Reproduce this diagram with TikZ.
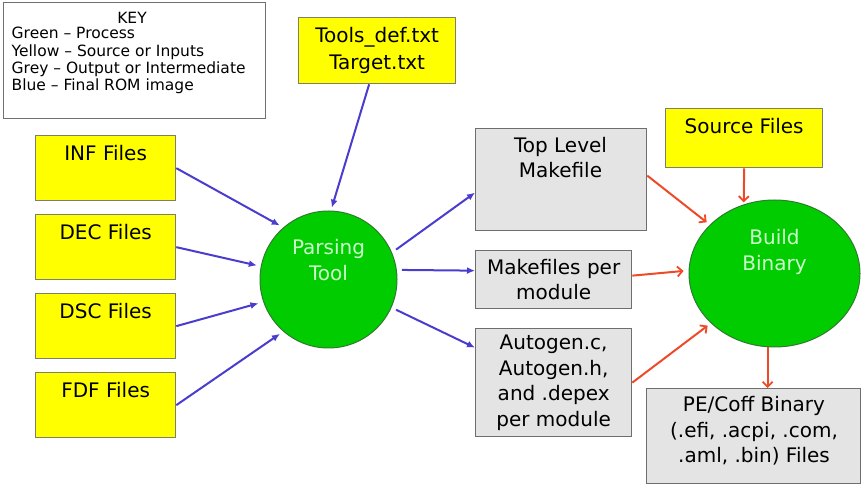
\documentclass[tikz,border=0pt]{standalone}
\usepackage{fontspec}
\setmainfont{DejaVu Sans}
\usetikzlibrary{arrows.meta,shapes.geometric}
\definecolor{ylw}{HTML}{FFFF00}
\definecolor{ybord}{HTML}{7F7F66}
\definecolor{gfill}{HTML}{E4E4E4}
\definecolor{gbord}{HTML}{6E6E6E}
\definecolor{grn}{HTML}{00CC00}
\definecolor{grnb}{HTML}{2E7D2E}
\definecolor{gtext}{HTML}{CCFFCC}
\definecolor{barr}{HTML}{4A3CCF}
\definecolor{rarr}{HTML}{EE4A28}
\definecolor{keyb}{HTML}{707070}
\begin{document}
\begin{tikzpicture}[x=1pt,y=-1pt,
  big/.style={font=\fontsize{20}{25.5}\selectfont},
  small/.style={font=\fontsize{15.5}{17.3}\selectfont},
  ybox/.style={draw=ybord, line width=1.3pt, fill=ylw, big, inner sep=0pt, anchor=north west},
  gbox/.style={draw=gbord, line width=1.3pt, fill=gfill, big, inner sep=0pt, anchor=north west, align=center},
  proc/.style={draw=grnb, line width=1pt, fill=grn, inner sep=0pt},
  ptext/.style={big, text=gtext, align=center, inner sep=0pt},
  btext/.style={big, align=center, inner sep=0pt},
  topfile/.style={text height=25pt, text depth=40pt},
  barrow/.style={draw=barr, line width=2pt, -{Latex[length=8pt,width=7pt]}},
  rarrow/.style={draw=rarr, line width=2pt, -{Straight Barb[length=5pt,width=10pt,line width=1.8pt]}},
]
\useasboundingbox (0,0) rectangle (868,486);
\fill[white] (0,0) rectangle (868,486);

% key
\node[draw=keyb, line width=1.2pt, minimum width=262pt, minimum height=116pt, anchor=north west, inner sep=0pt] (key) at (3,2) {};
\node[small, inner sep=0pt] (keytitle) at (132,17.5) {KEY};
\node[small, align=left, inner sep=0pt, anchor=north west] (keytext) at (11.5,27) {Green – Process\\Yellow – Source or Inputs\\Grey – Output or Intermediate\\Blue – Final ROM image};

% inputs
\node[ybox, minimum width=140pt, topfile] (inf) at (35,135) {INF Files};
\node[ybox, minimum width=140pt, topfile] (dec) at (35,214) {DEC Files};
\node[ybox, minimum width=140pt, topfile] (dsc) at (35,293) {DSC Files};
\node[ybox, minimum width=140pt, topfile] (fdf) at (35,372) {FDF Files};
\node[ybox, minimum width=157pt, minimum height=66pt, align=center] (tools) at (298,17) {Tools\_def.txt\\[1.5pt]Target.txt};
\node[ybox, minimum width=157pt, text height=25pt, text depth=34pt] (src) at (665,108) {Source Files};

% processes
\node[proc, circle, minimum size=137pt] (parse) at (328.5,279.5) {};
\node[ptext] (parsetext) at ([yshift=19.5pt]parse.center) {Parsing\\Tool};
\node[proc, ellipse, minimum width=171pt, minimum height=147pt] (build) at (774.5,273.5) {};
\node[ptext] (buildtext) at ([yshift=21.7pt]build.center) {Build\\Binary};

% intermediates
\node[gbox, minimum width=171pt, minimum height=102pt] (top) at (475,128) {};
\node[btext] (toptext) at (560.5,157.5) {Top Level\\Makefile};
\node[gbox, minimum width=156pt, minimum height=58pt] (mk) at (475,250) {Makefiles per\\module};
\node[gbox, minimum width=156pt, minimum height=108pt] (auto) at (475,328) {Autogen.c,\\Autogen.h,\\and .depex\\per module};
\node[gbox, minimum width=214pt, minimum height=95pt] (pe) at (646,388) {};
\node[btext] (petext) at (754,431) {PE/Coff Binary\\(.efi, .acpi, .com,\\.aml, .bin) Files};

% blue connectors
\draw[barrow, shorten >=4pt] (inf.east) -- (parse.131);
\draw[barrow, shorten >=4pt] (dec.east) -- (parse.169);
\draw[barrow, shorten >=5pt] (dsc.east) -- (parse.199);
\draw[barrow, shorten >=4pt] (fdf.east) -- (parse.229);
\draw[barrow, shorten >=3pt] ([xshift=-8pt]tools.south) -- (parse.88);
\draw[barrow, shorten <=5pt] (parse.23) -- ([yshift=-13pt]top.west);
\draw[barrow, shorten <=5pt] (parse.8) -- ([yshift=9pt]mk.west);
\draw[barrow, shorten <=5pt] (parse.-24) -- ([yshift=35pt]auto.west);

% red connectors
\draw[rarrow, shorten >=4pt] ([yshift=4pt]top.east) -- (build.143);
\draw[rarrow, shorten >=5pt] ([yshift=4pt]mk.east) -- (build.178);
\draw[rarrow, shorten >=2pt] (src.south) -- (build.114);
\draw[rarrow, shorten >=4pt] (auto.east) -- (build.218);
\draw[rarrow] ([xshift=14pt]pe.north |- build.south) -- ([xshift=14pt]pe.north);
\end{tikzpicture}
\end{document}
